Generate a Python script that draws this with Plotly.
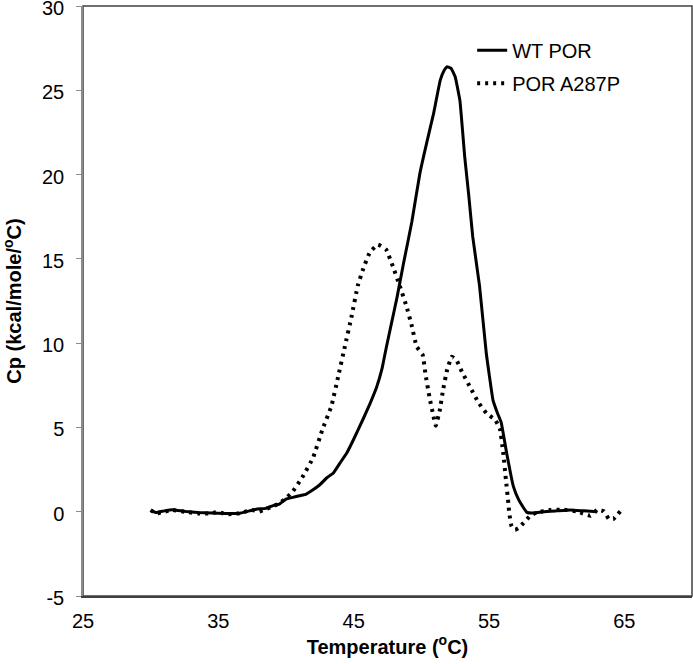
import plotly.graph_objects as go

# ---- data ----
wt_temp = [30.0, 30.4, 31.0, 31.6, 32.5, 33.5, 34.5, 35.5, 36.5, 37.3, 37.8, 38.5, 39.0, 39.5,
           40.0, 40.5, 41.0, 41.5, 42.0, 42.5, 43.0, 43.5, 44.0, 44.5, 45.0, 45.7, 46.2, 46.7,
           47.1, 47.4, 47.8, 48.2, 48.7, 49.3, 49.9, 50.4, 50.9, 51.4, 51.7, 51.9, 52.2, 52.5, 52.85,
           53.2, 53.5, 53.8, 54.3, 54.8, 55.3, 55.6, 55.9, 56.3, 56.8, 57.2, 57.5, 57.8, 58.3,
           59.0, 60.0, 61.0, 62.0, 63.0]
wt_cp = [0.08, -0.05, 0.05, 0.12, 0.02, -0.05, -0.08, -0.1, -0.1, 0.05, 0.15, 0.2, 0.35, 0.45,
         0.75, 0.85, 0.95, 1.05, 1.3, 1.6, 2.0, 2.3, 2.9, 3.5, 4.3, 5.5, 6.4, 7.4,
         8.5, 9.7, 11.2, 12.7, 14.8, 17.2, 20.1, 21.9, 23.6, 25.6, 26.2, 26.4, 26.3, 25.8, 24.4,
         21.1, 18.8, 16.3, 13.4, 9.4, 6.6, 5.9, 5.3, 3.5, 1.5, 0.7, 0.3, -0.04, -0.08,
         0.0, 0.05, 0.1, 0.05, 0.0]

mut_temp = [30.0, 30.4, 31.0, 31.6, 32.5, 33.5, 34.5, 35.0, 35.5, 36.5, 37.5, 38.0, 38.5, 39.0,
            39.5, 40.0, 40.5, 41.25, 42.0, 42.7, 43.35, 43.85, 44.35, 44.85, 45.3, 45.7, 46.2,
            46.8, 47.4, 47.9, 48.4, 48.9, 49.3, 49.65, 50.1, 50.3, 50.6, 50.9, 51.07, 51.37,
            51.6, 51.9, 52.25, 52.6, 53.0, 53.6, 54.2, 54.8, 55.45, 55.8, 56.05, 56.25, 56.43,
            56.5, 56.67, 56.93, 57.17, 57.67, 58.05, 58.5, 59.5, 60.5, 61.5, 62.5, 63.0, 63.5,
            63.85, 64.2, 64.7]
mut_cp = [0.1, -0.1, 0.0, 0.1, 0.0, -0.1, -0.1, 0.0, -0.15, -0.1, 0.1, 0.0, 0.15, 0.3,
          0.5, 0.8, 1.2, 2.1, 3.2, 4.9, 6.25, 8.0, 9.8, 11.6, 13.4, 14.4, 15.4,
          15.85, 15.55, 14.55, 13.4, 12.2, 11.0, 9.8, 9.3, 8.2, 6.8, 5.65, 5.1, 6.05,
          7.2, 8.4, 9.2, 9.0, 8.3, 7.4, 6.5, 5.85, 5.45, 4.95, 3.5, 1.9, 0.5,
          -0.1, -0.87, -1.07, -0.97, -0.57, -0.24, -0.05, 0.1, 0.12, 0.02, -0.24, 0.12, 0.02,
          -0.43, -0.43, 0.02]

series_names = ["WT POR", "POR A287P"]
x_ticks = [25, 35, 45, 55, 65]
y_ticks = [-5, 0, 5, 10, 15, 20, 25, 30]

FONT = "Liberation Sans, Arial, sans-serif"

fig = go.Figure()
fig.add_trace(go.Scatter(x=wt_temp, y=wt_cp, mode="lines", name=series_names[0],
                         legendgroup="a",
                         line=dict(color="black", width=3, shape="spline", smoothing=0.3)))
fig.add_trace(go.Scatter(x=mut_temp, y=mut_cp, mode="lines", name=series_names[1],
                         legendgroup="b",
                         line=dict(color="black", width=4, dash="3px,5px",
                                   shape="spline", smoothing=0.3)))

fig.update_layout(
    width=693, height=664,
    margin=dict(l=83, r=1, t=6, b=68, autoexpand=False),
    paper_bgcolor="white", plot_bgcolor="white",
    font=dict(family=FONT, size=20, color="black"),
    showlegend=True,
    legend=dict(x=0.639, y=0.958, xanchor="left", yanchor="top",
                bgcolor="rgba(0,0,0,0)", font=dict(size=20), tracegroupgap=4),
    xaxis=dict(range=[25, 70], tickvals=x_ticks, ticktext=[str(v) for v in x_ticks],
               showgrid=False, zeroline=False, showline=True, linecolor="#404040",
               linewidth=1.5, ticks="", ticklabelstandoff=6, automargin=True,
               ticklabeloverflow="allow", tickfont=dict(size=20),
               title=dict(text="<b>Temperature (<sup>o</sup>C)</b>", font=dict(size=20),
                          standoff=9)),
    xaxis2=dict(range=[25, 70], overlaying="x", anchor="free", position=5 / 35,
                tickvals=x_ticks, showticklabels=False, showgrid=False, zeroline=False,
                showline=True, linecolor="#8c8c8c", linewidth=1.2, ticks="outside",
                ticklen=4, tickcolor="#8c8c8c", layer="below traces", automargin=False),
    yaxis=dict(range=[-5, 30], tickvals=y_ticks, ticktext=[str(v) for v in y_ticks],
               showgrid=False, zeroline=False,
               showline=True, linecolor="#8c8c8c", linewidth=1.5, ticks="outside",
               ticklen=5, tickcolor="#8c8c8c", ticklabelstandoff=8, automargin=True,
               ticklabeloverflow="allow", tickfont=dict(size=20), ticklabelshift=2,
               title=dict(text="<b>Cp (kcal/mole/<sup>o</sup>C)</b>", font=dict(size=20),
                          standoff=19)),
    shapes=[dict(type="rect", xref="paper", yref="paper", x0=0, x1=1, y0=0, y1=1,
                 line=dict(color="#404040", width=1.5), layer="between")],
)

fig.write_html("out.html", config={"displayModeBar": False},
               post_script="document.body.style.margin='0';")
